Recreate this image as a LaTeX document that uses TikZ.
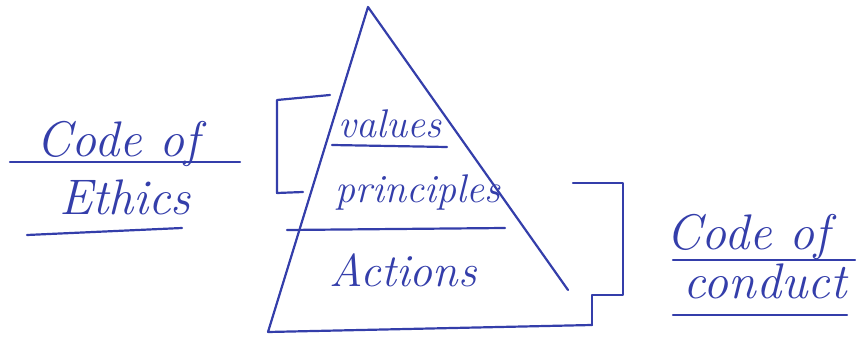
\documentclass[tikz,border=0pt]{standalone}
\usepackage{fontspec}
\setmainfont{Latin Modern Roman}
\definecolor{ink}{RGB}{52,62,170}
\begin{document}
\begin{tikzpicture}[x=1pt,y=-1pt,
  pen/.style={draw=ink,line width=2.2pt,line cap=round,line join=round},
  hand/.style={text=ink,font=\fontsize{40}{44}\selectfont\itshape,inner sep=0pt,anchor=center},
  bighand/.style={hand,font=\fontsize{50}{54}\selectfont\itshape}]
\useasboundingbox (0,0) rectangle (856,339);
% triangle
\coordinate (apex) at (368,7);
\coordinate (bl) at (268,332);
\coordinate (rt) at (568,290);
\coordinate (br) at (592,325);
\draw[pen] (rt) -- (apex) -- (bl) -- (br);
% layer lines
\coordinate (l1a) at (332,145); \coordinate (l1b) at (447,147);
\coordinate (l2a) at (287,230); \coordinate (l2b) at (505,228);
\draw[pen] (l1a) -- (l1b);
\draw[pen] (l2a) -- (l2b);
% layer texts
\node[hand] (values) at (390,124) {values};
\node[hand] (principles) at (418,192) {principles};
\node[hand,font=\fontsize{46}{50}\selectfont\itshape] (actions) at (403,270) {Actions};
% left bracket
\coordinate (lb1) at (330,95); \coordinate (lb2) at (277,100);
\coordinate (lb3) at (277,193); \coordinate (lb4) at (303,192);
\draw[pen] (lb1) -- (lb2) -- (lb3) -- (lb4);
% right bracket
\coordinate (rb1) at (573,183); \coordinate (rb2) at (623,183);
\coordinate (rb3) at (623,295); \coordinate (rb4) at (592,295);
\draw[pen] (rb1) -- (rb2) -- (rb3) -- (rb4) -- (br);
% left label
\node[bighand] (ce1) at (118,144) {Code of};
\node[bighand] (ce2) at (125,197) {Ethics};
\coordinate (u1a) at (10,162); \coordinate (u1b) at (240,162);
\coordinate (u2a) at (27,235); \coordinate (u2b) at (182,228);
\draw[pen] (u1a) -- (u1b);
\draw[pen] (u2a) -- (u2b);
% right label
\node[bighand] (cc1) at (748,237) {Code of};
\node[bighand] (cc2) at (765,281) {conduct};
\coordinate (u3a) at (673,260); \coordinate (u3b) at (855,260);
\coordinate (u4a) at (673,315); \coordinate (u4b) at (847,315);
\draw[pen] (u3a) -- (u3b);
\draw[pen] (u4a) -- (u4b);
\end{tikzpicture}
\end{document}
